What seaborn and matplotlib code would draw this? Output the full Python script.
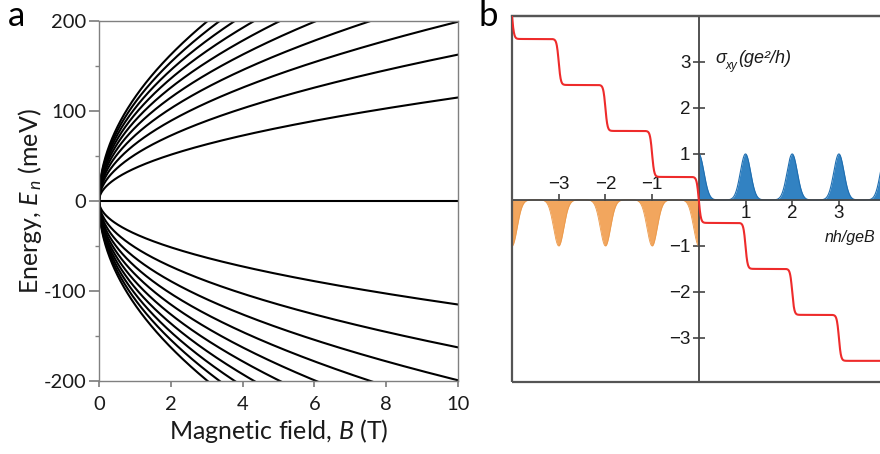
import numpy as np
import pandas as pd
import matplotlib
matplotlib.use("Agg")
import matplotlib.pyplot as plt
from matplotlib.patches import Rectangle
import seaborn as sns

# panel a: graphene Landau levels, E_n = +/- E(1 T) * sqrt(n B)
levels = [1, 2, 3, 4, 5, 6, 7, 8, 9, 10]
e_level1_at_10T = 115.0
b_max = 10.0
a_xticks = [0, 2, 4, 6, 8, 10]
a_yticks = [-200, -100, 0, 100, 200]
a_yminor = [-150, -50, 50, 150]

# panel b: Hall conductivity staircase and density of states peaks
step_centers = [-4, -3, -2, -1, 0, 1, 2, 3]
plateaus = [4.5, 3.5, 2.5, 1.5, 0.5, -0.5, -1.5, -2.5, -3.5]
electron_peaks = [0, 1, 2, 3, 4]
hole_peaks = [-4, -3, -2, -1, 0]
peak_height = 1.0
peak_width = 0.11
step_width = 0.045
b_ticks = [-3, -2, -1, 1, 2, 3]

sns.set_theme(style="white")
plt.rcParams["font.family"] = ["Lato", "DejaVu Sans"]
plt.rcParams["axes.unicode_minus"] = False
plt.rcParams["mathtext.fontset"] = "custom"
plt.rcParams["mathtext.it"] = "Lato:italic"
plt.rcParams["mathtext.rm"] = "Lato"

SANS = ["Liberation Sans", "DejaVu Sans"]

fig = plt.figure(figsize=(8.8, 4.54), dpi=100)
W, H = 880, 454

# ---------- panel a ----------
ax = fig.add_axes([99 / W, 1 - 381 / H, (458 - 99) / W, (381 - 21) / H])
bgrid = np.linspace(0, b_max, 600)
rows = []
for n in levels:
    for s in (1, -1):
        e = s * e_level1_at_10T * np.sqrt(n * bgrid / b_max)
        rows.append(pd.DataFrame({"B": bgrid, "E": e, "curve": f"{n}{s}"}))
rows.append(pd.DataFrame({"B": bgrid, "E": 0.0 * bgrid, "curve": "0"}))
df = pd.concat(rows, ignore_index=True)
sns.lineplot(data=df, x="B", y="E", units="curve", estimator=None,
             color="black", lw=1.5, ax=ax, legend=False)
ax.set_xlim(0, 10)
ax.set_ylim(-200, 200)
ax.set_xticks(a_xticks)
ax.set_yticks(a_yticks)
ax.set_yticks(a_yminor, minor=True)
for sp in ax.spines.values():
    sp.set_color("#808080")
    sp.set_linewidth(1.0)
ax.tick_params(axis="both", which="major", direction="out", color="#808080",
               labelsize=14.5, labelcolor="#1a1a1a", bottom=True, left=True)
ax.tick_params(axis="y", which="major", length=7, pad=2)
ax.tick_params(axis="x", which="major", length=4, pad=7)
ax.tick_params(axis="y", which="minor", direction="out", length=3,
               color="#808080", left=True)
ax.set_xlabel("Magnetic field, $B$ (T)", fontsize=18, color="#1a1a1a", labelpad=3)
ax.set_ylabel("Energy, $E_{\\,n}$ (meV)", fontsize=18, color="#1a1a1a", labelpad=0)
fig.text(8 / W, 1 - 26 / H, "a", fontsize=25, color="black")

# ---------- panel b ----------
bx = fig.add_axes([512 / W, 1 - 382 / H, 373.6 / W, 366 / H])
bx.set_xlim(-4, 4)
bx.set_ylim(-3.96, 4.0)
bx.set_facecolor("white")

xe = np.linspace(0, 4.3, 800)
ye = sum(peak_height * np.exp(-(xe - c) ** 2 / (2 * peak_width ** 2)) for c in electron_peaks)
xh = np.linspace(-4.3, 0, 800)
yh = -sum(peak_height * np.exp(-(xh - c) ** 2 / (2 * peak_width ** 2)) for c in hole_peaks)
bx.fill_between(xe, 0, ye, color="#3282c2", lw=0, zorder=1)
bx.plot(xe, ye, color="#1f6eb0", lw=0.8, zorder=1)
bx.fill_between(xh, 0, yh, color="#f2a65e", lw=0, zorder=1)
bx.plot(xh, yh, color="#eb9a4c", lw=0.6, zorder=1)

xs = np.linspace(-4, 4, 1600)
ys = plateaus[0] - sum(0.5 * (1 + np.tanh((xs - c) / step_width)) *
                       (plateaus[i] - plateaus[i + 1])
                       for i, c in enumerate(step_centers))
sns.lineplot(x=xs, y=ys, color="#ee2b2b", lw=1.5, ax=bx, zorder=5)

bx.spines["right"].set_visible(False)
bx.spines["top"].set_color("#555555")
bx.spines["top"].set_linewidth(1.6)
bx.spines["left"].set_position(("data", 0))
bx.spines["bottom"].set_position(("data", 0))
for side in ("left", "bottom"):
    bx.spines[side].set_color("#444444")
    bx.spines[side].set_linewidth(1.3)
    bx.spines[side].set_zorder(2)
bx.add_patch(Rectangle((0, 0), 1, 1, transform=bx.transAxes, fill=False,
                       ec="#555555", lw=1.6, clip_on=False, zorder=3))

bx.set_yticks([-3, -2, -1, 1, 2, 3])
bx.set_yticklabels(["\u22123", "\u22122", "\u22121", "1", "2", "3"])
bx.set_xticks(b_ticks)
bx.set_xticklabels(["" if t < 0 else str(t) for t in b_ticks])
bx.tick_params(axis="both", direction="inout", length=8, width=1.2,
               color="#444444", labelsize=13.5, labelcolor="#1a1a1a",
               left=True, bottom=True)
bx.tick_params(axis="y", pad=2)
bx.tick_params(axis="x", pad=0)
for lab in bx.get_xticklabels() + bx.get_yticklabels():
    lab.set_family(SANS)
for t in b_ticks:
    if t < 0:
        bx.text(t, 0.16, f"\u2212{-t}", ha="center", va="bottom", fontsize=13.5,
                family=SANS, color="#1a1a1a")

# sigma_xy (ge^2/h) axis label, built from pieces
s1 = bx.text(0.36, 2.9, "\u03c3", fontsize=13, style="italic", ha="left",
             va="bottom", family=SANS, color="#1a1a1a")
s2 = bx.annotate("xy", xy=(0.95, 0.05), xycoords=s1, fontsize=8.5, style="italic",
                 ha="left", va="center", family=SANS, color="#1a1a1a")
bx.annotate("(ge\u00b2/h)", xy=(1.0, 0.0), xycoords=(s2, s1), fontsize=13,
            style="italic", ha="left", va="bottom", family=SANS,
            color="#1a1a1a")
bx.text(2.70, -0.82, "nh/geB", fontsize=11.5, style="italic", ha="left",
        va="center", family=SANS, color="#1a1a1a")
fig.text(478 / W, 1 - 26 / H, "b", fontsize=25, color="black")

fig.savefig("out.png", dpi=100)
